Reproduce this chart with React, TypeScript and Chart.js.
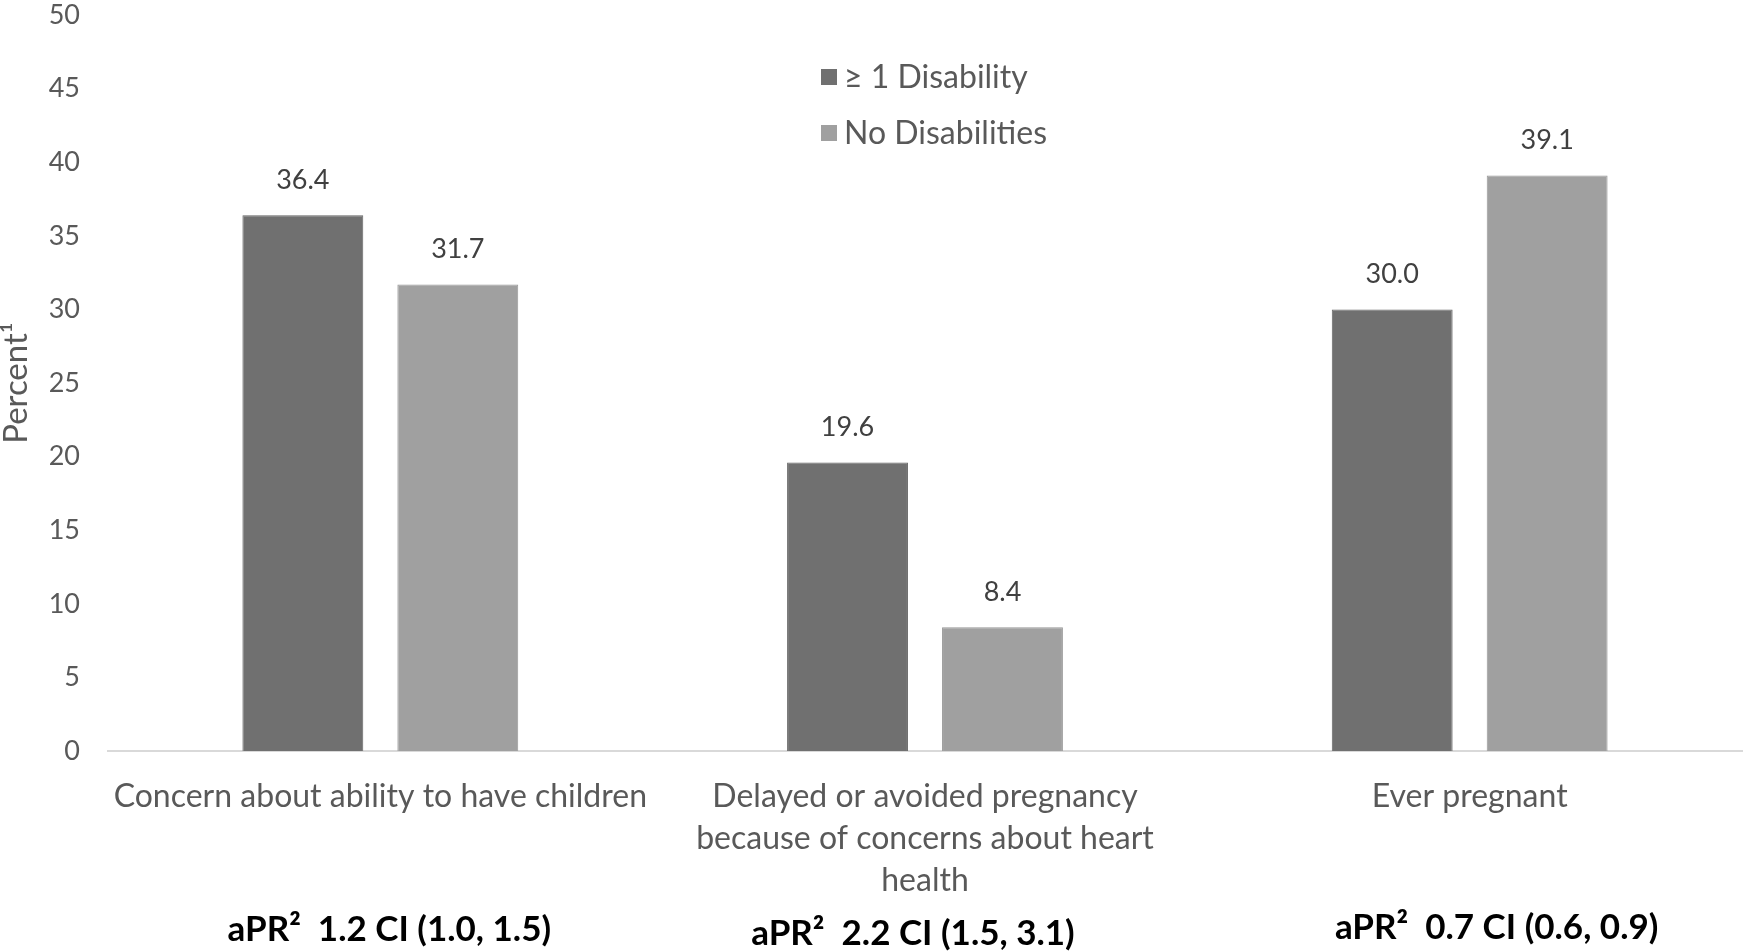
import React, { useEffect, useRef } from "react";
import { Chart, registerables } from "chart.js";

Chart.register(...registerables);

const categories: (string | string[])[] = [
  "Concern about ability to have children",
  ["Delayed or avoided pregnancy", "because of concerns about heart", "health"],
  "Ever pregnant",
];
const seriesNames = ["\u2265 1 Disability", "No Disabilities"];
const disabilityValues = [36.4, 19.6, 30.0];
const noDisabilityValues = [31.7, 8.4, 39.1];
const aprLabels = [
  "aPR\u00B2  1.2 CI (1.0, 1.5)",
  "aPR\u00B2  2.2 CI (1.5, 3.1)",
  "aPR\u00B2  0.7 CI (0.6, 0.9)",
];
const yTicks = [0, 5, 10, 15, 20, 25, 30, 35, 40, 45, 50];

const FONT = "Lato, 'Open Sans', sans-serif";
const DARK = "#707070";
const LIGHT = "#a0a0a0";
const TEXT = "#595959";

const overlayPlugin = {
  id: "overlay",
  afterDatasetsDraw(chart: any) {
    const ctx = chart.ctx;
    ctx.save();
    // value labels
    ctx.font = `27px ${FONT}`;
    ctx.fillStyle = "#404040";
    ctx.textAlign = "center";
    ctx.textBaseline = "middle";
    chart.data.datasets.forEach((ds: any, di: number) => {
      const meta = chart.getDatasetMeta(di);
      meta.data.forEach((bar: any, i: number) => {
        ctx.fillText(Number(ds.data[i]).toFixed(1), bar.x, bar.y - 35);
      });
    });
    // legend
    const colors = [DARK, LIGHT];
    ctx.font = `32px ${FONT}`;
    ctx.textAlign = "left";
    seriesNames.forEach((name, i) => {
      const cy = 77 + i * 56;
      ctx.fillStyle = colors[i];
      ctx.fillRect(821, cy - 8, 16, 16);
      ctx.fillStyle = TEXT;
      ctx.fillText(name, 844, cy + 1);
    });
    // aPR annotations
    const xs = chart.scales.x;
    const offsets = [9, -12, 27];
    const ys = [930, 934, 928];
    ctx.font = `bold 35px ${FONT}`;
    ctx.fillStyle = "#000000";
    ctx.textAlign = "center";
    aprLabels.forEach((t, i) => {
      ctx.fillText(t, xs.getPixelForValue(i) + offsets[i], ys[i]);
    });
    ctx.restore();
  },
};

export default function App() {
  const ref = useRef<HTMLCanvasElement>(null);
  useEffect(() => {
    document.body.style.margin = "0";
    const chart = new Chart(ref.current!, {
      type: "bar",
      data: {
        labels: categories,
        datasets: [
          {
            label: seriesNames[0],
            data: disabilityValues,
            backgroundColor: DARK,
            borderColor: "#636363",
            borderWidth: 1,
            categoryPercentage: 0.569,
            barPercentage: 0.78,
          },
          {
            label: seriesNames[1],
            data: noDisabilityValues,
            backgroundColor: LIGHT,
            borderColor: "#979797",
            borderWidth: 1,
            categoryPercentage: 0.569,
            barPercentage: 0.78,
          },
        ],
      },
      options: {
        animation: false,
        responsive: false,
        layout: { padding: { top: 15, right: 7, left: 0, bottom: 0 } },
        plugins: {
          legend: { display: false },
          tooltip: { enabled: false },
        },
        scales: {
          x: {
            grid: { display: false, drawTicks: false },
            border: { display: true, color: "#d9d9d9", width: 2 },
            ticks: {
              color: TEXT,
              font: { family: FONT, size: 32, lineHeight: "42px" as any },
              padding: 25,
              maxRotation: 0,
              autoSkip: false,
            },
            afterFit: (s: any) => {
              s.height = 200;
              s.paddingLeft = 0;
              s.paddingRight = 0;
            },
          },
          y: {
            min: 0,
            max: 50,
            afterBuildTicks: (s: any) => {
              s.ticks = yTicks.map((v) => ({ value: v }));
            },
            grid: { display: false, drawTicks: false },
            border: { display: false },
            ticks: {
              color: TEXT,
              font: { family: FONT, size: 27 },
              padding: 28,
            },
            title: {
              display: true,
              text: "Percent\u00B9",
              color: TEXT,
              font: { family: FONT, size: 33, lineHeight: 1 },
              padding: { top: 0, bottom: 0 },
            },
            afterFit: (s: any) => {
              s.width = 108;
              s.paddingTop = 0;
              s.paddingBottom = 0;
            },
          },
        },
      },
      plugins: [overlayPlugin],
    });
    return () => chart.destroy();
  }, []);
  return (
    <div style={{ width: 1749, height: 951, position: "relative" }}>
      <canvas ref={ref} width={1749} height={951} style={{ display: "block" }} />
    </div>
  );
}
